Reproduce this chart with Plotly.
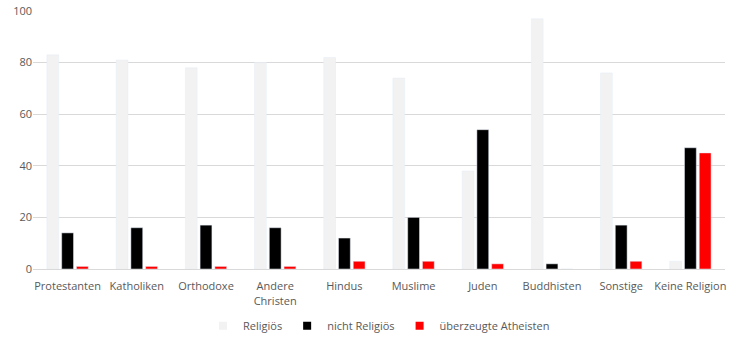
import plotly.graph_objects as go

categories = ["Protestanten", "Katholiken", "Orthodoxe", "Andere<br>Christen", "Hindus",
              "Muslime", "Juden", "Buddhisten", "Sonstige", "Keine Religion"]
religioes = [83, 81, 78, 80, 82, 74, 38, 97, 76, 3]
nicht_religioes = [14, 16, 17, 16, 12, 20, 54, 2, 17, 47]
atheisten = [1, 1, 1, 1, 3, 3, 2, 0, 3, 45]

series = [("Religiös", religioes, "#f2f2f2"),
          ("nicht Religiös", nicht_religioes, "#000000"),
          ("überzeugte Atheisten", atheisten, "#ff0000")]

fig = go.Figure()
for name, vals, col in series:
    fig.add_bar(x=categories, y=vals, name=name, marker_color=col, showlegend=False)
for name, vals, col in series:
    fig.add_scatter(x=[None], y=[None], mode="markers", name=name,
                    marker=dict(symbol="square", size=8, color=col))

fig.update_layout(
    width=735, height=339,
    margin=dict(l=33, r=10, t=11, b=70, autoexpand=False),
    paper_bgcolor="white", plot_bgcolor="white",
    barmode="group", bargap=0.36, bargroupgap=0.2,
    font=dict(family="Open Sans", size=11, color="#595959"),
    legend=dict(orientation="h", x=0.5, xanchor="center", y=-0.22, yanchor="middle",
                font=dict(size=11, color="#595959"), itemwidth=30, traceorder="normal"),
    xaxis=dict(showline=True, linecolor="#d9d9d9", linewidth=1,
               ticks="outside", ticklen=7, tickcolor="rgba(0,0,0,0)",
               tickangle=0, tickfont=dict(size=11), automargin=False),
    yaxis=dict(range=[0, 100], dtick=20, gridcolor="#d9d9d9", gridwidth=1,
               zeroline=False, showline=False, tickfont=dict(size=11), automargin=False),
)
fig.write_html("out.html")
